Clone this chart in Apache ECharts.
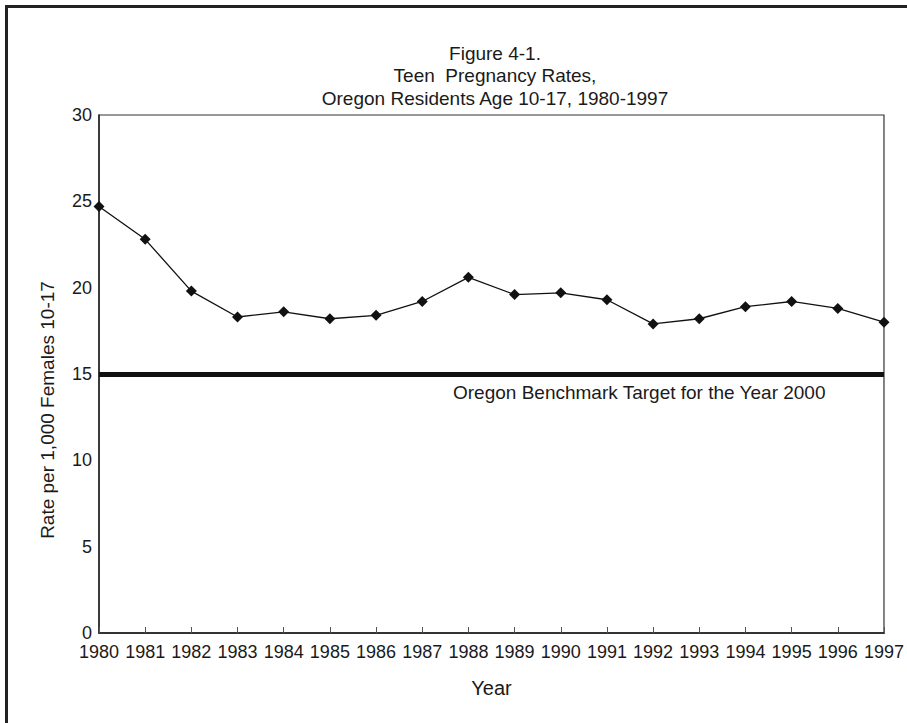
<!DOCTYPE HTML>
<html>
	<head>
		<meta charset="utf-8">
		<title>Teen Pregnancy Rates, Oregon 1980-1997</title>
		<style type="text/css">
			html, body { margin: 0; padding: 0; background: #fff; }
			#main { width: 907px; height: 723px; }
		</style>
	</head>
	<body>
		<div id="main"></div>
	</body>
	<script type="text/javascript" src="https://cdn.jsdelivr.net/npm/echarts@6/dist/echarts.min.js"></script>
	<script type="text/javascript">
		// data
		var years = ['1980', '1981', '1982', '1983', '1984', '1985', '1986', '1987', '1988',
			'1989', '1990', '1991', '1992', '1993', '1994', '1995', '1996', '1997'];
		var rates = [24.7, 22.8, 19.8, 18.3, 18.6, 18.2, 18.4, 19.2, 20.6,
			19.6, 19.7, 19.3, 17.9, 18.2, 18.9, 19.2, 18.8, 18.0];
		var benchmark = 15;
		var benchmarkLabel = 'Oregon Benchmark Target for the Year 2000';
		var titleLines = ['Figure 4-1.', 'Teen  Pregnancy Rates,', 'Oregon Residents Age 10-17, 1980-1997'];

		var font = 'Arial, "Liberation Sans", Helvetica, sans-serif';
		var ink = '#1a1a1a';

		option = {
			animation : false,
			backgroundColor : '#fff',
			title : {
				text : titleLines.join('\n'),
				left : 490,
				top : 37,
				textAlign : 'center',
				textStyle : {
					fontFamily : font,
					fontSize : 19,
					fontWeight : 'normal',
					color : ink,
					lineHeight : 22.5
				}
			},
			graphic : [{
				// outer frame of the figure
				type : 'rect',
				shape : { x : 6.5, y : 6.5, width : 960, height : 800 },
				style : { fill : null, stroke : '#222', lineWidth : 3 },
				silent : true
			}],
			grid : {
				left : 99,
				right : 20,
				top : 115,
				bottom : 90,
				show : true,
				borderColor : '#333',
				borderWidth : 1.2
			},
			xAxis : {
				type : 'category',
				data : years,
				boundaryGap : false,
				name : 'Year',
				nameLocation : 'middle',
				nameGap : 45,
				nameTextStyle : { fontFamily : font, fontSize : 20, color : ink },
				axisLine : { lineStyle : { color : '#333', width : 2 } },
				axisTick : { inside : true, length : 6, lineStyle : { color : '#555', width : 1 } },
				axisLabel : { fontFamily : font, fontSize : 18, color : ink, margin : 10, interval : 0 },
				splitLine : { show : false }
			},
			yAxis : {
				type : 'value',
				min : 0,
				max : 30,
				interval : 5,
				name : 'Rate per 1,000 Females 10-17',
				nameLocation : 'middle',
				nameRotate : 90,
				nameGap : 42,
				nameTextStyle : { fontFamily : font, fontSize : 19, color : ink, padding : [0, 72, 0, 0] },
				axisLine : { show : true, lineStyle : { color : '#222', width : 1.5 } },
				axisTick : { show : false },
				axisLabel : { fontFamily : font, fontSize : 18, color : ink, margin : 7 },
				splitLine : { show : false }
			},
			series : [{
				name : 'Rate',
				type : 'line',
				data : rates,
				symbol : 'diamond',
				symbolSize : 11,
				lineStyle : { color : '#111', width : 1.3 },
				itemStyle : { color : '#111' },
				markLine : {
					silent : true,
					symbol : 'none',
					data : [{ yAxis : benchmark }],
					lineStyle : { color : '#111', width : 5, type : 'solid' },
					label : {
						show : true,
						position : 'insideStartBottom',
						distance : 9,
						formatter : benchmarkLabel,
						fontFamily : font,
						fontSize : 19,
						color : ink,
						padding : [0, 0, 0, 345]
					}
				},
				z : 3
			}]
		};

		var myChart = echarts.init(document.getElementById('main'), null, { renderer : 'svg' });
		myChart.setOption(option);
	</script>
</html>
